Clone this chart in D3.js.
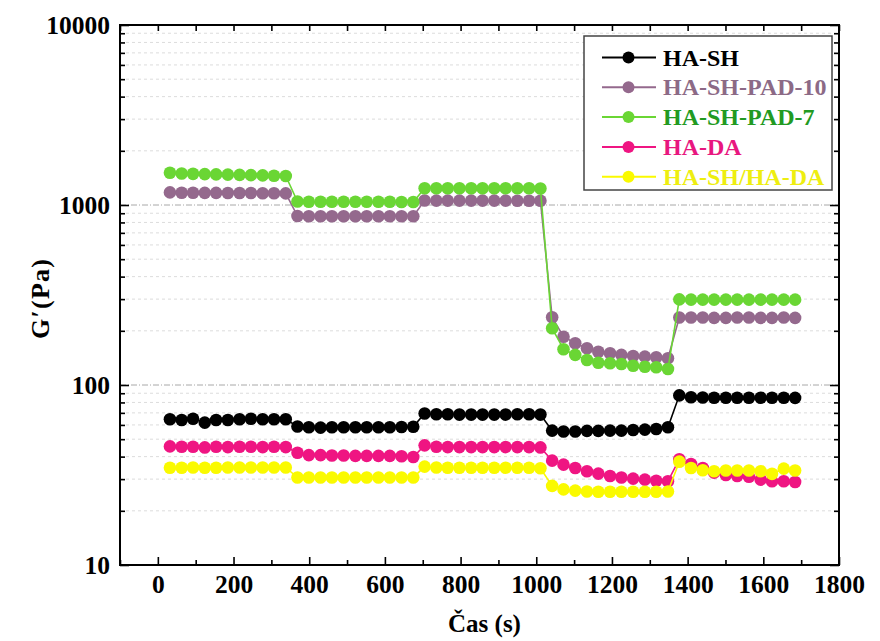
<!DOCTYPE html>
<html>
<head>
<meta charset="utf-8">
<script src="https://cdn.jsdelivr.net/npm/d3@7"></script>
<style>
  html, body { margin: 0; padding: 0; background: #ffffff; }
  svg { display: block; }
  text { font-family: "Liberation Serif", "Times New Roman", serif; font-weight: bold; }
</style>
</head>
<body>
<svg id="chart" width="880" height="641"></svg>
<script>
// ---- Data ----
const times = [32, 63, 93, 124, 154, 185, 216, 246, 277, 307, 338,
  369, 399, 430, 460, 491, 522, 552, 583, 613, 644, 675,
  705, 736, 766, 797, 828, 858, 889, 919, 950, 981, 1011,
  1042, 1072, 1103, 1134, 1164, 1195, 1225, 1256, 1287, 1317, 1348,
  1378, 1409, 1440, 1470, 1501, 1531, 1562, 1593, 1623, 1654, 1684];

const haSH = [64.5, 63.9, 65.0, 61.8, 63.9, 63.9, 64.5, 65.0, 64.5, 64.5, 64.5,
  58.8, 58.2, 58.0, 58.2, 58.2, 58.2, 58.2, 58.2, 58.2, 58.4, 58.6,
  69.5, 68.8, 68.8, 68.5, 68.5, 68.5, 68.5, 68.5, 68.8, 68.8, 68.5,
  55.8, 55.2, 55.2, 55.6, 55.6, 55.8, 55.8, 56.2, 56.5, 57.0, 58.2,
  87.6, 85.5, 85.3, 85.0, 85.0, 85.0, 85.0, 85.0, 85.0, 85.0, 84.8];

const haSHPAD10 = [1175, 1170, 1170, 1168, 1168, 1165, 1165, 1165, 1163, 1163, 1160,
  868, 866, 866, 866, 866, 866, 866, 866, 866, 866, 866,
  1060, 1058, 1057, 1057, 1057, 1057, 1057, 1057, 1055, 1055, 1055,
  237.8, 185.5, 170.5, 160, 153, 150, 147, 145, 143.7, 142.6, 140.7,
  237, 237, 237, 236, 236, 237, 237, 236, 236, 237, 236];

const haSHPAD7 = [1510, 1495, 1490, 1485, 1480, 1475, 1470, 1465, 1460, 1455, 1450,
  1045, 1043, 1043, 1043, 1043, 1043, 1043, 1043, 1043, 1040, 1040,
  1240, 1240, 1238, 1238, 1238, 1238, 1238, 1238, 1238, 1238, 1236,
  206.5, 158, 147, 137.7, 133, 132, 130.9, 128, 126.4, 125.5, 122.8,
  299, 298, 298, 298, 298, 298, 298, 298, 298, 298, 298];

const haDA = [45.6, 45.4, 45.4, 45.0, 45.4, 45.2, 45.4, 45.4, 45.2, 45.4, 45.2,
  42.0, 40.8, 40.8, 40.6, 40.6, 40.4, 40.4, 40.4, 40.4, 40.2, 39.8,
  46.2, 45.4, 45.2, 45.2, 45.2, 45.2, 45.2, 45.2, 45.2, 45.2, 45.0,
  38.0, 36.1, 34.6, 33.2, 32.2, 31.2, 30.6, 30.2, 29.8, 29.4, 29.2,
  38.7, 36.4, 34.6, 32.6, 31.6, 31.2, 30.9, 29.8, 29.2, 29.2, 28.9];

const haSHhaDA = [34.7, 34.7, 34.8, 34.7, 34.7, 34.8, 34.8, 34.8, 34.8, 34.8, 34.8,
  30.6, 30.6, 30.6, 30.6, 30.6, 30.6, 30.6, 30.6, 30.6, 30.6, 30.6,
  35.2, 34.8, 34.7, 34.7, 34.7, 34.7, 34.7, 34.7, 34.7, 34.7, 34.5,
  27.5, 26.3, 25.9, 25.6, 25.5, 25.5, 25.5, 25.5, 25.5, 25.5, 25.6,
  37.5, 34.6, 33.6, 33.2, 33.5, 33.5, 33.5, 33.2, 32.1, 34.3, 33.5];

const seriesNames = ["HA-SH", "HA-SH-PAD-10", "HA-SH-PAD-7", "HA-DA", "HA-SH/HA-DA"];
const seriesValues = [haSH, haSHPAD10, haSHPAD7, haDA, haSHhaDA];
const markerColors = ["#000000", "#94698d", "#6ad634", "#ef1582", "#fafa00"];
const legendTextColors = ["#000000", "#8c6a86", "#229a22", "#e8177f", "#eeee10"];

const xMajorTicks = [0, 200, 400, 600, 800, 1000, 1200, 1400, 1600, 1800];
const xMinorTicks = [-100, 100, 300, 500, 700, 900, 1100, 1300, 1500, 1700];
const yMajorTicks = [10, 100, 1000, 10000];
const yMinorTicks = [20, 30, 40, 50, 60, 70, 80, 90, 200, 300, 400, 500, 600, 700, 800, 900,
  2000, 3000, 4000, 5000, 6000, 7000, 8000, 9000];

const xTitle = "Čas (s)";
const yTitle = "G′(Pa)";

// ---- Layout ----
const L = 120, R = 839, T = 25, B = 565;
const svg = d3.select("#chart");
const x = d3.scaleLinear().domain([-100, 1800]).range([L, R]);
const y = d3.scaleLog().domain([10, 10000]).range([B, T]);

// grid lines (horizontal only)
const grid = svg.append("g");
grid.selectAll("line.minor").data(yMinorTicks).enter().append("line")
  .attr("x1", L).attr("x2", R)
  .attr("y1", d => y(d)).attr("y2", d => y(d))
  .attr("stroke", "#dcdcdc").attr("stroke-width", 1).attr("stroke-dasharray", "3,3");
grid.selectAll("line.major").data([100, 1000]).enter().append("line")
  .attr("x1", L).attr("x2", R)
  .attr("y1", d => y(d)).attr("y2", d => y(d))
  .attr("stroke", "#a8a8a8").attr("stroke-width", 1).attr("stroke-dasharray", "6,2,1,2");

// series
const line = d3.line().x((d, i) => x(times[i])).y(d => y(d));
seriesValues.forEach((vals, si) => {
  const g = svg.append("g");
  g.append("path").datum(vals).attr("d", line)
    .attr("fill", "none").attr("stroke", markerColors[si]).attr("stroke-width", 1.6);
  g.selectAll("circle").data(vals).enter().append("circle")
    .attr("cx", (d, i) => x(times[i])).attr("cy", d => y(d)).attr("r", 6.3)
    .attr("fill", markerColors[si]);
});

// axes
function styleAxis(g) {
  g.select(".domain").remove();
  g.selectAll(".tick line").attr("stroke", "#000").attr("stroke-width", 1.6);
  g.selectAll(".tick text").attr("fill", "#000").style("font-size", "25.5px")
    .style("font-family", "'Liberation Serif', 'Times New Roman', serif").style("font-weight", "bold");
}
svg.append("g").attr("transform", `translate(0,${B})`)
  .call(d3.axisBottom(x).tickValues(xMinorTicks).tickSizeInner(-5).tickSizeOuter(0).tickFormat(""))
  .call(styleAxis);
svg.append("g").attr("transform", `translate(0,${B})`)
  .call(d3.axisBottom(x).tickValues(xMajorTicks).tickSizeInner(-8).tickSizeOuter(0).tickPadding(10).tickFormat(d3.format("d")))
  .call(styleAxis);
svg.append("g").attr("transform", `translate(0,${T})`)
  .call(d3.axisTop(x).tickValues(xMinorTicks.concat(xMajorTicks)).tickSizeInner(-6).tickSizeOuter(0).tickFormat(""))
  .call(styleAxis);
svg.append("g").attr("transform", `translate(${L},0)`)
  .call(d3.axisLeft(y).tickValues(yMinorTicks).tickSizeInner(-5).tickSizeOuter(0).tickFormat(""))
  .call(styleAxis);
svg.append("g").attr("transform", `translate(${L},0)`)
  .call(d3.axisLeft(y).tickValues(yMajorTicks).tickSizeInner(-9).tickSizeOuter(0).tickPadding(10).tickFormat(d3.format("d")))
  .call(styleAxis);
svg.append("g").attr("transform", `translate(${R},0)`)
  .call(d3.axisRight(y).tickValues(yMinorTicks).tickSizeInner(-5).tickSizeOuter(0).tickFormat(""))
  .call(styleAxis);
svg.append("g").attr("transform", `translate(${R},0)`)
  .call(d3.axisRight(y).tickValues(yMajorTicks).tickSizeInner(-9).tickSizeOuter(0).tickFormat(""))
  .call(styleAxis);

// frame
svg.append("rect").attr("x", L).attr("y", T).attr("width", R - L).attr("height", B - T)
  .attr("fill", "none").attr("stroke", "#000").attr("stroke-width", 2);

// axis titles
svg.append("text").attr("x", (L + R) / 2 + 5).attr("y", 632).attr("text-anchor", "middle")
  .style("font-size", "25px").attr("fill", "#000").text(xTitle);
svg.append("text").attr("transform", `translate(49,${(T + B) / 2 + 4}) rotate(-90)`)
  .attr("text-anchor", "middle").style("font-size", "26px")
  .attr("textLength", 80).attr("lengthAdjust", "spacing")
  .attr("fill", "#000").text(yTitle);

// legend
const lg = svg.append("g");
lg.append("rect").attr("x", 584).attr("y", 36).attr("width", 248).attr("height", 154)
  .attr("fill", "#fff").attr("stroke", "#444").attr("stroke-width", 1.5);
seriesNames.forEach((name, i) => {
  const cy = 57.5 + i * 29.8;
  lg.append("line").attr("x1", 602).attr("x2", 656).attr("y1", cy).attr("y2", cy)
    .attr("stroke", markerColors[i]).attr("stroke-width", 2);
  lg.append("circle").attr("cx", 628.5).attr("cy", cy).attr("r", 6).attr("fill", markerColors[i]);
  lg.append("text").attr("x", 663).attr("y", cy + 8).style("font-size", "24px")
    .attr("fill", legendTextColors[i]).text(name);
});
</script>
</body>
</html>
